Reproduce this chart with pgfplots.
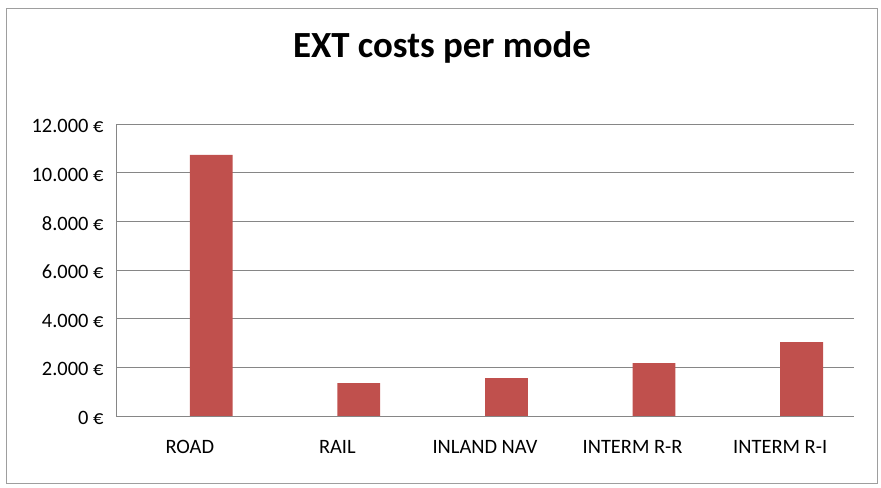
\documentclass[border=0pt]{standalone}
\usepackage{pgfplots}
\pgfplotsset{compat=1.18}
\usepackage{fontspec}
\setmainfont{Carlito}
\definecolor{barred}{HTML}{C0504D}
\definecolor{gridgray}{HTML}{868686}
\begin{document}
\begin{tikzpicture}
\useasboundingbox (0,0) rectangle (881bp,488bp);
\draw[gridgray!80, line width=0.8bp] (6.5bp,4.5bp) rectangle (877bp,480bp);
\node[font=\fontsize{37}{40}\selectfont\bfseries] at (442bp,441bp) {EXT costs per mode};
\begin{axis}[
  at={(116bp,72bp)}, anchor=south west,
  scale only axis, width=738bp, height=291.7bp,
  xmin=-0.5, xmax=4.5, ymin=0, ymax=12000,
  axis x line=bottom, axis y line=left,
  axis line style={gridgray, line width=0.9bp, -},
  ytick={0,2000,...,12000},
  scaled y ticks=false,
  ymajorgrids, grid style={gridgray, line width=0.9bp},
  xtick={0,1,2,3,4},
  xticklabels={ROAD,RAIL,INLAND NAV,INTERM R-R,INTERM R-I},
  major tick length=0pt,
  tick style={draw=none},
  /pgf/number format/assume math mode=true,
  yticklabel={\pgfmathprintnumber[fixed,precision=0,1000 sep={.}]{\tick}~€},
  ticklabel style={font=\fontsize{20.5}{24}\selectfont},
  yticklabel style={xshift=-9bp, yshift=-2bp},
  xticklabel style={yshift=-21bp},
  ybar, bar width=0.29, bar shift=0.145,
]
\addplot[fill=barred, draw=none] coordinates {(0,10740) (1,1357) (2,1563) (3,2180) (4,3044)};
\end{axis}
\end{tikzpicture}
\end{document}
